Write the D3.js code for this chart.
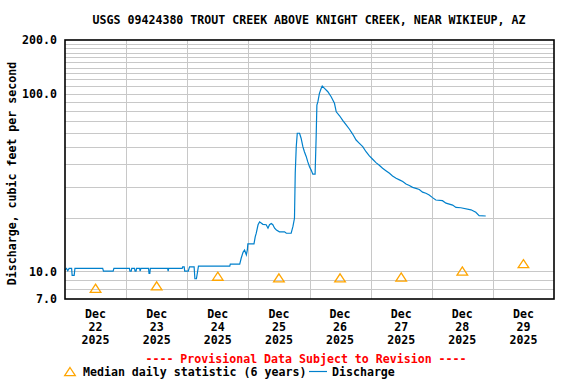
<!DOCTYPE html>
<meta charset="utf-8">
<style>
body{ margin:0; background:#fff; }
text{ font-family:"DejaVu Sans Mono", monospace; font-weight:bold; font-size:11.6px; fill:#000; }
.grid line{ stroke:#c8c8c8; stroke-width:1; shape-rendering:crispEdges; }
.axis path{ display:none; }
</style>
<svg width="576" height="384"></svg>
<script src="https://d3js.org/d3.v7.min.js"></script>
<script>
// chart data
var title = "USGS 09424380 TROUT CREEK ABOVE KNIGHT CREEK, NEAR WIKIEUP, AZ";
var dayLabels = ["22", "23", "24", "25", "26", "27", "28", "29"];
var monthLabel = "Dec", yearLabel = "2025";
// median daily statistic, one per day
var medianValues = [8.0, 8.25, 9.35, 9.15, 9.15, 9.25, 10.0, 11.0];
// discharge: [hours after Dec 22 00:00, cfs]
var discharge = [
  [0.0,10.2],[0.6,10.4],[1.1,10.1],[1.6,10.4],[2.6,10.4],[2.8,9.5],[3.6,9.5],[3.9,10.4],
  [14.8,10.4],[15.1,10.05],[18.9,10.05],[19.2,10.4],
  [25.3,10.4],[25.5,10.05],[26.0,10.05],[26.2,10.4],[27.3,10.4],[27.5,10.05],[27.9,10.05],[28.1,10.4],
  [29.3,10.4],[29.5,10.05],[29.8,10.4],
  [32.8,10.4],[33.0,9.75],[33.3,9.75],[33.5,10.4],
  [40.3,10.4],[40.5,10.05],[40.7,10.4],
  [46.0,10.4],[46.2,10.6],[46.8,10.6],[47.0,10.05],[48.4,10.05],[48.9,10.6],[50.7,10.6],[51.0,9.1],[51.6,9.1],[52.4,10.7],
  [64.7,10.7],[64.9,11.0],[68.6,11.0],[69.2,11.9],[69.9,12.8],[70.5,13.2],[71.2,12.4],[71.6,13.2],[71.8,14.3],
  [74.2,14.3],[74.7,15.7],[75.1,16.4],[75.8,18.3],[76.4,19.0],[77.7,18.4],[79.0,18.3],[79.7,17.5],[80.3,18.3],
  [81.0,18.6],[81.6,18.3],[82.3,17.5],[83.0,17.1],[84.2,16.7],[86.2,16.7],[86.9,16.4],[88.8,16.4],[89.5,17.9],
  [90.1,19.9],[90.4,35.6],[90.8,50.3],[91.2,59.8],[92.1,59.8],[92.7,56.1],[93.4,50.3],[94.0,47.1],[94.7,44.3],
  [95.3,41.4],[96.0,38.8],[96.7,37.0],[97.3,35.2],[98.2,35.2],[98.6,56.1],[98.9,86.2],[99.3,90.0],[99.9,100.3],
  [100.6,107],[101.0,110.3],[101.9,107],[103.2,102.4],[104.5,96],[105.8,88.2],[106.5,79],[107.8,75],
  [109.1,70.4],[110.4,66.6],[111.7,63.0],[113.0,59.0],[114.3,54.8],[115.6,52.5],[116.9,50.3],[118.2,47.1],
  [119.5,44.6],[120.8,42.7],[122.1,40.9],[123.4,39.5],[124.7,38.0],[126.0,36.8],[127.4,35.6],[128.6,34.4],
  [130.0,33.4],[131.3,32.7],[132.6,32.0],[133.9,31.0],[135.2,30.4],[136.5,29.7],[137.8,29.3],[139.1,28.9],
  [140.4,27.9],[141.7,27.5],[143.0,26.9],[144.3,26.0],[145.6,25.2],[148.2,25.0],[149.6,24.2],[152.2,23.6],
  [153.5,22.9],[155.4,22.8],[159.4,22.2],[161.3,21.5],[162.6,20.6],[165.2,20.5]
];
var yTickValues = [7, 10, 100, 200];
var yGridValues = [8, 9, 10, 20, 30, 40, 50, 60, 70, 80, 90, 100, 110, 120, 130, 140, 150, 160, 170, 180, 190];

// sizes
var svg = d3.select("svg"),
    margin = {top: 40, right: 22, bottom: 85, left: 65},
    width = +svg.attr("width") - margin.left - margin.right,
    height = +svg.attr("height") - margin.top - margin.bottom;

var start = new Date(2025, 11, 22);
function hoursToDate(h){ return new Date(start.getTime() + h * 3600e3); }

var x = d3.scaleTime().domain([start, new Date(2025, 11, 30)]).range([0, width]),
    y = d3.scaleLog().domain([7, 200]).range([height, 0]);

var g = svg.append("g")
    .attr("transform", "translate(" + margin.left + "," + margin.top + ")");

// grid
var grid = g.append("g").attr("class", "grid");
grid.selectAll(".hg").data(yGridValues).enter().append("line")
    .attr("x1", 0).attr("x2", width)
    .attr("y1", function(d){ return Math.round(y(d)) + 0.5; })
    .attr("y2", function(d){ return Math.round(y(d)) + 0.5; });
grid.selectAll(".vg").data(d3.timeDay.range(new Date(2025, 11, 23), new Date(2025, 11, 30))).enter().append("line")
    .attr("y1", 0).attr("y2", height)
    .attr("x1", function(d){ return Math.round(x(d)) + 0.5; })
    .attr("x2", function(d){ return Math.round(x(d)) + 0.5; });

// y axis labels
g.append("g")
    .attr("class", "axis")
    .call(d3.axisLeft(y).tickValues(yTickValues).tickFormat(d3.format(".1f")).tickSize(0).tickPadding(8))
    .selectAll("text")
    .style("font-family", "DejaVu Sans Mono, monospace")
    .style("font-size", "11.6px")
    .style("font-weight", "bold");

// x labels, three lines at noon of each day
var noons = dayLabels.map(function(d, i){ return hoursToDate(i * 24 + 12); });
var xl = g.append("g").selectAll("text").data(noons).enter().append("text")
    .attr("text-anchor", "middle")
    .attr("x", function(d){ return x(d); })
    .attr("y", height + 19);
xl.append("tspan").attr("x", function(d){ return x(d); }).text(monthLabel);
xl.append("tspan").attr("x", function(d){ return x(d); }).attr("dy", 13).text(function(d, i){ return dayLabels[i]; });
xl.append("tspan").attr("x", function(d){ return x(d); }).attr("dy", 13).text(yearLabel);

// discharge line
var line = d3.line()
    .x(function(d){ return x(hoursToDate(d[0])); })
    .y(function(d){ return y(d[1]); });
g.append("path")
    .datum(discharge)
    .attr("fill", "none")
    .attr("stroke", "#0080cc")
    .attr("stroke-width", 1.2)
    .attr("d", line);

// median triangles
var tri = "M0,-4.5L5.3,3.6L-5.3,3.6Z";
g.selectAll(".med").data(medianValues).enter().append("path")
    .attr("d", tri)
    .attr("fill", "none")
    .attr("stroke", "#ffa500")
    .attr("stroke-width", 1.3)
    .attr("transform", function(d, i){ return "translate(" + x(noons[i]) + "," + y(d) + ")"; });

// frame
g.append("rect")
    .attr("width", width).attr("height", height)
    .attr("fill", "none").attr("stroke", "#000").attr("stroke-width", 1.6);

// title and axis title
svg.append("text").attr("x", 309).attr("y", 24).attr("text-anchor", "middle").text(title);
svg.append("text")
    .attr("transform", "translate(16," + (margin.top + height / 2 + 4) + ") rotate(-90)")
    .attr("text-anchor", "middle")
    .text("Discharge, cubic feet per second");

// footer
svg.append("text").attr("x", 306).attr("y", 362.5).attr("text-anchor", "middle")
    .style("fill", "#ff0000")
    .text("---- Provisional Data Subject to Revision ----");
svg.append("path").attr("d", tri)
    .attr("fill", "none").attr("stroke", "#ffa500").attr("stroke-width", 1.3)
    .attr("transform", "translate(70,372)");
svg.append("text").attr("x", 83).attr("y", 376).text("Median daily statistic (6 years)");
svg.append("line").attr("x1", 309).attr("x2", 327).attr("y1", 371.5).attr("y2", 371.5)
    .attr("stroke", "#0080cc").attr("stroke-width", 1.2);
svg.append("text").attr("x", 332).attr("y", 376).text("Discharge");
</script>
